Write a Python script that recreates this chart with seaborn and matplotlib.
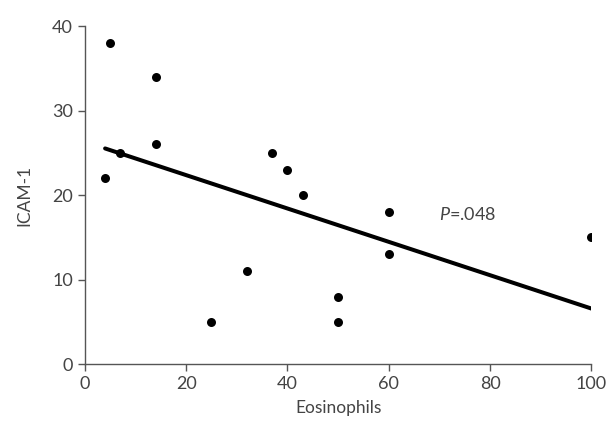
import numpy as np
import pandas as pd
import matplotlib
matplotlib.use("Agg")
import matplotlib.pyplot as plt
import seaborn as sns

# DATA

eosinophils = [4, 5, 7, 14, 14, 25, 32, 37, 40, 43, 50, 50, 60, 60, 100]
icam1 = [22, 38, 25, 34, 26, 5, 11, 25, 23, 20, 8, 5, 18, 13, 15]
x_ticks = [0, 20, 40, 60, 80, 100]
y_ticks = [0, 10, 20, 30, 40]

df = pd.DataFrame({"Eosinophils": eosinophils, "ICAM-1": icam1})

# STYLE

sns.set_style("ticks")
plt.rcParams['font.family'] = ['Lato', 'DejaVu Sans']
plt.rcParams['mathtext.fontset'] = 'custom'
plt.rcParams['mathtext.it'] = 'Lato:italic'
text_color = "#444444"
spine_color = "#555555"

fig = plt.figure(figsize=(6.06, 4.22), dpi=100)
ax = fig.add_axes([0.140, 0.137, 0.836, 0.801])

# PLOT

sns.regplot(
    data=df,
    x="Eosinophils",
    y="ICAM-1",
    ci=None,
    truncate=True,
    color="black",
    scatter_kws={"s": 42, "linewidths": 0, "alpha": 1},
    line_kws={"linewidth": 2.9},
    ax=ax
)

ax.text(70, 17.7, "$P$=.048", fontsize=13, color=text_color,
        va="center", ha="left")

# AXES

ax.set_xlim(0, 100)
ax.set_ylim(0, 40)
ax.set_xticks(x_ticks)
ax.set_yticks(y_ticks)
ax.tick_params(axis="both", labelsize=13, colors=spine_color,
               labelcolor=text_color, length=5, width=1)

ax.set_xlabel("Eosinophils", fontsize=12.5, color=text_color, labelpad=6)
ax.set_ylabel("ICAM-1", fontsize=12.5, color=text_color, labelpad=14)

sns.despine(ax=ax)
for side in ["left", "bottom"]:
    ax.spines[side].set_color(spine_color)
    ax.spines[side].set_linewidth(1)

plt.savefig("out.png", dpi=100)
plt.close()
